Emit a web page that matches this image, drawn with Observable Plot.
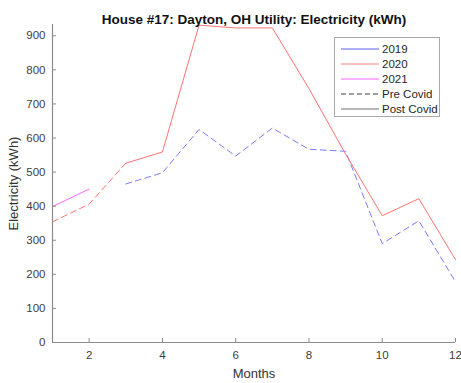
<!DOCTYPE html>
<html>
<head>
<meta charset="utf-8">
<script src="https://cdn.jsdelivr.net/npm/d3@7"></script>
<script src="https://cdn.jsdelivr.net/npm/@observablehq/plot@0.6"></script>
<style>
  body { margin: 0; background: #fff; font-family: "Liberation Sans", Arial, sans-serif; }
  #wrap { position: relative; width: 461px; height: 383px; }
  #legend { position: absolute; left: 334px; top: 37px; width: 104px; height: 78px;
    border: 1px solid #a8a8a8; background: #fff; box-sizing: content-box; }
  .li { position: absolute; left: 6px; height: 15px; display: flex; align-items: center;
    font-size: 11.5px; color: #262626; white-space: nowrap; }
  .li svg { margin-right: 3px; }
</style>
</head>
<body>
<div id="wrap"></div>
<script>
const months = [1, 2, 3, 4, 5, 6, 7, 8, 9, 10, 11, 12];
const y2019 = [null, null, 465, 498, 625, 547, 629, 567, 561, 290, 357, 178];
const y2020 = [354, 406, 526, 559, 931, 923, 923, 745, 553, 372, 422, 243];
const y2021 = [399, 450, null, null, null, null, null, null, null, null, null, null];
const covidStartMonth = 3; // March 2020
const xTicks = [2, 4, 6, 8, 10, 12];
const yTicks = [0, 100, 200, 300, 400, 500, 600, 700, 800, 900];
const seriesNames = ["2019", "2020", "2021"];
const seriesColors = ["#7a7aff", "#ff7272", "#ff66ff"];
const legendLabels = ["2019", "2020", "2021", "Pre Covid", "Post Covid"];
const title = "House #17: Dayton, OH Utility: Electricity (kWh)";
const xLabel = "Months";
const yLabel = "Electricity (kWh)";

function rows(vals, year) {
  return months.map((m, i) => ({month: m, value: vals[i], year}))
    .filter(d => d.value != null);
}
const r2019 = rows(y2019, 2019);
const r2020 = rows(y2020, 2020);
const r2021 = rows(y2021, 2021);
const pre = [
  ...r2019.map(d => ({...d, seg: "2019"})),
  ...r2020.filter(d => d.month <= covidStartMonth).map(d => ({...d, seg: "2020"}))
];
const post = [
  ...r2020.filter(d => d.month >= covidStartMonth).map(d => ({...d, seg: "2020"})),
  ...r2021.map(d => ({...d, seg: "2021"}))
];
const colorOf = s => seriesColors[seriesNames.indexOf(s)];

const chart = Plot.plot({
  width: 461,
  height: 383,
  marginTop: 24,
  marginLeft: 52,
  marginRight: 6,
  marginBottom: 41,
  style: {fontFamily: "Liberation Sans, Arial, sans-serif", fontSize: "11.5px", color: "#404040", background: "#fff"},
  x: {domain: [1, 12]},
  y: {domain: [0, 933]},
  marks: [
    Plot.line(pre, {x: "month", y: "value", z: "seg", stroke: d => colorOf(d.seg), strokeWidth: 1, strokeDasharray: "6,4"}),
    Plot.line(post, {x: "month", y: "value", z: "seg", stroke: d => colorOf(d.seg), strokeWidth: 1}),
    Plot.ruleY([0], {stroke: "#8c8c8c", strokeWidth: 1.2}),
    Plot.ruleX([1], {stroke: "#8c8c8c", strokeWidth: 1.2}),
    Plot.axisX({ticks: xTicks, tickSize: -4, tickPadding: 12, stroke: "#8c8c8c",
      label: xLabel, labelAnchor: "center", labelOffset: 35, fontSize: 11.5}),
    Plot.axisY({ticks: yTicks, tickSize: -4, tickPadding: 11, stroke: "#8c8c8c",
      label: yLabel, labelAnchor: "center", labelOffset: 44, fontSize: 11.5}),
    Plot.text([title], {frameAnchor: "top", dy: -10, fontWeight: "bold", fontSize: 13.5, fill: "#111"})
  ]
});

// axis label styling, strip arrows
chart.querySelectorAll("[aria-label='x-axis label'] text, [aria-label='y-axis label'] text").forEach(t => {
  t.setAttribute("font-size", "13");
  t.setAttribute("fill", "#333");
  t.textContent = t.textContent.replace(/[↑↓←→]/g, "").trim();
});

const wrap = document.getElementById("wrap");
wrap.appendChild(chart);

// legend
const legend = document.createElement("div");
legend.id = "legend";
const legendStyles = [
  {color: "#5c5cff", dash: null},
  {color: "#ff8080", dash: null},
  {color: "#ff66ff", dash: null},
  {color: "#404040", dash: "5,3"},
  {color: "#a0a0a0", dash: null, width: 1.6}
];
legendLabels.forEach((lab, i) => {
  const s = legendStyles[i];
  const item = document.createElement("div");
  item.className = "li";
  item.style.top = (3 + i * 15) + "px";
  item.innerHTML = `<svg width="38" height="6"><line x1="0" y1="3" x2="38" y2="3" stroke="${s.color}" stroke-width="${s.width || 1}" ${s.dash ? `stroke-dasharray="${s.dash}"` : ""}/></svg><span>${lab}</span>`;
  legend.appendChild(item);
});
wrap.appendChild(legend);
</script>
</body>
</html>
